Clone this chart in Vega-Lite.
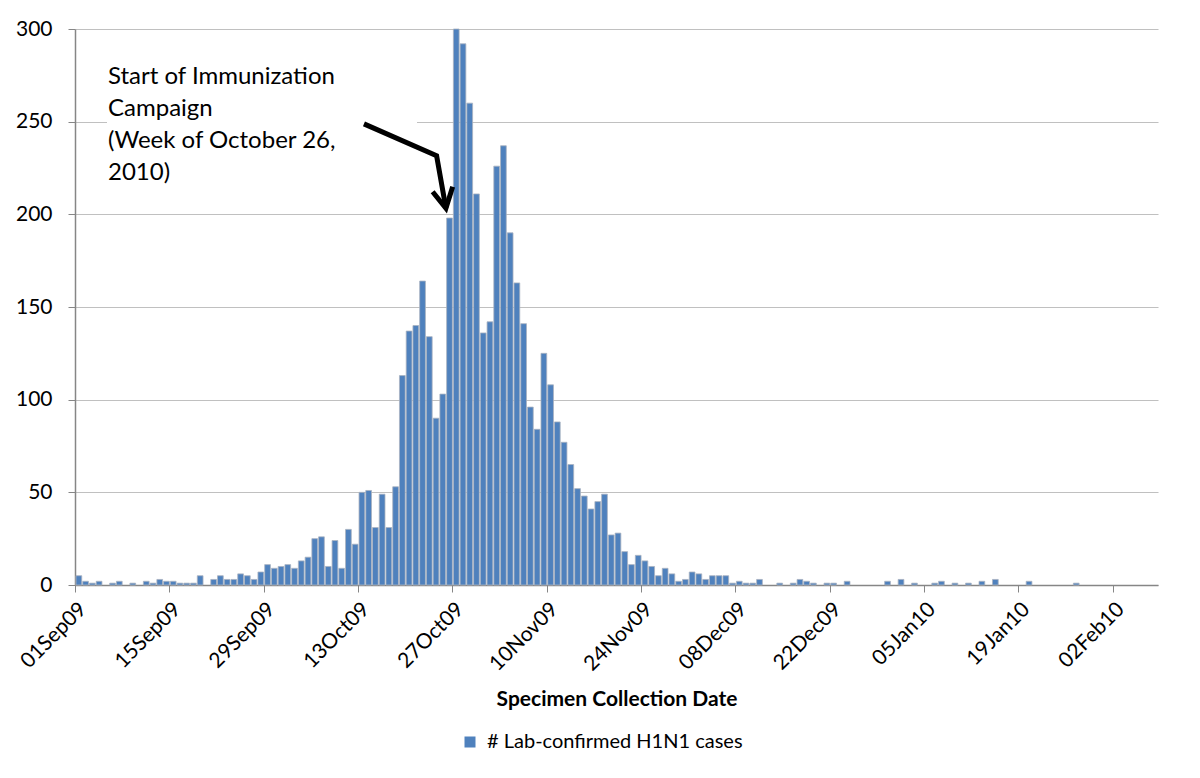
{
  "$schema": "https://vega.github.io/schema/vega-lite/v6.json",
  "width": 1083,
  "height": 556,
  "autosize": {"type": "none"},
  "padding": {"left": 75, "top": 29, "right": 42, "bottom": 193},
  "background": "white",
  "config": {
    "view": {"stroke": null},
    "font": "Lato",
    "axis": {"labelFont": "Lato", "titleFont": "Lato", "labelColor": "#000000", "titleColor": "#000000"}
  },
  "datasets": {
    "cases": [
      {"date": "2009-09-01", "cases": 5}, {"date": "2009-09-02", "cases": 2}, {"date": "2009-09-03", "cases": 1},
      {"date": "2009-09-04", "cases": 2}, {"date": "2009-09-06", "cases": 1}, {"date": "2009-09-07", "cases": 2},
      {"date": "2009-09-09", "cases": 1}, {"date": "2009-09-11", "cases": 2}, {"date": "2009-09-12", "cases": 1},
      {"date": "2009-09-13", "cases": 3}, {"date": "2009-09-14", "cases": 2}, {"date": "2009-09-15", "cases": 2},
      {"date": "2009-09-16", "cases": 1}, {"date": "2009-09-17", "cases": 1}, {"date": "2009-09-18", "cases": 1},
      {"date": "2009-09-19", "cases": 5}, {"date": "2009-09-21", "cases": 3}, {"date": "2009-09-22", "cases": 5},
      {"date": "2009-09-23", "cases": 3}, {"date": "2009-09-24", "cases": 3}, {"date": "2009-09-25", "cases": 6},
      {"date": "2009-09-26", "cases": 5}, {"date": "2009-09-27", "cases": 3}, {"date": "2009-09-28", "cases": 7},
      {"date": "2009-09-29", "cases": 11}, {"date": "2009-09-30", "cases": 9}, {"date": "2009-10-01", "cases": 10},
      {"date": "2009-10-02", "cases": 11}, {"date": "2009-10-03", "cases": 9}, {"date": "2009-10-04", "cases": 13},
      {"date": "2009-10-05", "cases": 15}, {"date": "2009-10-06", "cases": 25}, {"date": "2009-10-07", "cases": 26},
      {"date": "2009-10-08", "cases": 10}, {"date": "2009-10-09", "cases": 24}, {"date": "2009-10-10", "cases": 9},
      {"date": "2009-10-11", "cases": 30}, {"date": "2009-10-12", "cases": 22}, {"date": "2009-10-13", "cases": 50},
      {"date": "2009-10-14", "cases": 51}, {"date": "2009-10-15", "cases": 31}, {"date": "2009-10-16", "cases": 49},
      {"date": "2009-10-17", "cases": 31}, {"date": "2009-10-18", "cases": 53}, {"date": "2009-10-19", "cases": 113},
      {"date": "2009-10-20", "cases": 137}, {"date": "2009-10-21", "cases": 140}, {"date": "2009-10-22", "cases": 164},
      {"date": "2009-10-23", "cases": 134}, {"date": "2009-10-24", "cases": 90}, {"date": "2009-10-25", "cases": 103},
      {"date": "2009-10-26", "cases": 198}, {"date": "2009-10-27", "cases": 300}, {"date": "2009-10-28", "cases": 292},
      {"date": "2009-10-29", "cases": 260}, {"date": "2009-10-30", "cases": 211}, {"date": "2009-10-31", "cases": 136},
      {"date": "2009-11-01", "cases": 142}, {"date": "2009-11-02", "cases": 226}, {"date": "2009-11-03", "cases": 237},
      {"date": "2009-11-04", "cases": 190}, {"date": "2009-11-05", "cases": 163}, {"date": "2009-11-06", "cases": 141},
      {"date": "2009-11-07", "cases": 96}, {"date": "2009-11-08", "cases": 84}, {"date": "2009-11-09", "cases": 125},
      {"date": "2009-11-10", "cases": 108}, {"date": "2009-11-11", "cases": 88}, {"date": "2009-11-12", "cases": 77},
      {"date": "2009-11-13", "cases": 65}, {"date": "2009-11-14", "cases": 52}, {"date": "2009-11-15", "cases": 48},
      {"date": "2009-11-16", "cases": 41}, {"date": "2009-11-17", "cases": 45}, {"date": "2009-11-18", "cases": 49},
      {"date": "2009-11-19", "cases": 27}, {"date": "2009-11-20", "cases": 28}, {"date": "2009-11-21", "cases": 18},
      {"date": "2009-11-22", "cases": 11}, {"date": "2009-11-23", "cases": 16}, {"date": "2009-11-24", "cases": 13},
      {"date": "2009-11-25", "cases": 10}, {"date": "2009-11-26", "cases": 5}, {"date": "2009-11-27", "cases": 9},
      {"date": "2009-11-28", "cases": 6}, {"date": "2009-11-29", "cases": 2}, {"date": "2009-11-30", "cases": 3},
      {"date": "2009-12-01", "cases": 7}, {"date": "2009-12-02", "cases": 6}, {"date": "2009-12-03", "cases": 3},
      {"date": "2009-12-04", "cases": 5}, {"date": "2009-12-05", "cases": 5}, {"date": "2009-12-06", "cases": 5},
      {"date": "2009-12-07", "cases": 1}, {"date": "2009-12-08", "cases": 2}, {"date": "2009-12-09", "cases": 1},
      {"date": "2009-12-10", "cases": 1}, {"date": "2009-12-11", "cases": 3}, {"date": "2009-12-14", "cases": 1},
      {"date": "2009-12-16", "cases": 1}, {"date": "2009-12-17", "cases": 3}, {"date": "2009-12-18", "cases": 2},
      {"date": "2009-12-19", "cases": 1}, {"date": "2009-12-21", "cases": 1}, {"date": "2009-12-22", "cases": 1},
      {"date": "2009-12-24", "cases": 2}, {"date": "2009-12-30", "cases": 2}, {"date": "2010-01-01", "cases": 3},
      {"date": "2010-01-03", "cases": 1}, {"date": "2010-01-06", "cases": 1}, {"date": "2010-01-07", "cases": 2},
      {"date": "2010-01-09", "cases": 1}, {"date": "2010-01-11", "cases": 1}, {"date": "2010-01-13", "cases": 2},
      {"date": "2010-01-15", "cases": 3}, {"date": "2010-01-20", "cases": 2}, {"date": "2010-01-27", "cases": 1}
    ],
    "arrow": [
      {"t": "2009-10-13T21:07:00Z", "v": 248.8, "seg": "shaft", "ord": 1},
      {"t": "2009-10-24T15:50:00Z", "v": 231.6, "seg": "shaft", "ord": 2},
      {"t": "2009-10-26T01:00:00Z", "v": 203.3, "seg": "shaft", "ord": 3},
      {"t": "2009-10-24T01:40:00Z", "v": 212.2, "seg": "head", "ord": 1},
      {"t": "2009-10-26T01:00:00Z", "v": 203.3, "seg": "head", "ord": 2},
      {"t": "2009-10-27T01:00:00Z", "v": 214.9, "seg": "head", "ord": 3}
    ],
    "note": [
      {"t": "2009-09-05T21:30:00Z", "v": 270.2, "t0": "2009-09-05T18:00:00Z", "t1": "2009-10-21T18:00:00Z", "v0": 206, "v1": 290}
    ]
  },
  "layer": [
    {
      "data": {"name": "cases"},
      "mark": {"type": "bar", "stroke": "#aab2c0", "strokeWidth": 0.8},
      "encoding": {
        "x": {
          "field": "date", "type": "temporal", "timeUnit": "utcyearmonthdate",
          "scale": {"type": "utc", "domain": [{"year": 2009, "month": "sep", "date": 1, "utc": true}, {"year": 2010, "month": "feb", "date": 8, "hours": 17, "utc": true}]},
          "axis": {
            "values": [
              {"year": 2009, "month": "sep", "date": 1, "utc": true},
              {"year": 2009, "month": "sep", "date": 15, "utc": true},
              {"year": 2009, "month": "sep", "date": 29, "utc": true},
              {"year": 2009, "month": "oct", "date": 13, "utc": true},
              {"year": 2009, "month": "oct", "date": 27, "utc": true},
              {"year": 2009, "month": "nov", "date": 10, "utc": true},
              {"year": 2009, "month": "nov", "date": 24, "utc": true},
              {"year": 2009, "month": "dec", "date": 8, "utc": true},
              {"year": 2009, "month": "dec", "date": 22, "utc": true},
              {"year": 2010, "month": "jan", "date": 5, "utc": true},
              {"year": 2010, "month": "jan", "date": 19, "utc": true},
              {"year": 2010, "month": "feb", "date": 2, "utc": true}
            ],
            "format": "%d%b%y",
            "labelAngle": -45,
            "labelFontSize": 21,
            "labelPadding": 6,
            "labelFlush": false,
            "labelOverlap": false,
            "tickSize": 7,
            "tickColor": "#868686",
            "domainColor": "#868686",
            "domainWidth": 1.5,
            "grid": false,
            "title": "Specimen Collection Date",
            "titleFontSize": 21,
            "titleFontWeight": "bold",
            "titlePadding": 14
          }
        },
        "y": {
          "field": "cases", "type": "quantitative",
          "scale": {"domain": [0, 300], "nice": false},
          "axis": {
            "values": [0, 50, 100, 150, 200, 250, 300],
            "title": null,
            "labelFontSize": 21,
            "labelPadding": 16,
            "tickSize": 7,
            "tickColor": "#868686",
            "domainColor": "#868686",
            "domainWidth": 1.5,
            "grid": true,
            "gridColor": "#c0c0c0",
            "gridWidth": 1.2
          }
        },
        "color": {
          "datum": "# Lab-confirmed H1N1 cases",
          "type": "nominal",
          "scale": {"range": ["#4f81bd"]},
          "legend": {
            "orient": "none", "legendX": 385, "legendY": 703, "title": null,
            "symbolType": "square", "symbolSize": 121, "symbolStrokeWidth": 0,
            "labelFontSize": 20, "labelFont": "Lato", "labelOffset": 7, "labelLimit": 500,
            "padding": 0, "labelColor": "#000000"
          }
        }
      }
    },
    {
      "data": {"name": "note"},
      "mark": {"type": "rect", "fill": "white", "stroke": null},
      "encoding": {
        "x": {"field": "t0", "type": "temporal", "scale": {"type": "utc"}},
        "x2": {"field": "t1"},
        "y": {"field": "v0", "type": "quantitative"},
        "y2": {"field": "v1"}
      }
    },
    {
      "data": {"name": "note"},
      "mark": {
        "type": "text",
        "text": ["Start of Immunization", "Campaign", "(Week of October 26,", "2010)"],
        "align": "left", "baseline": "alphabetic", "lineHeight": 32,
        "fontSize": 24, "font": "Lato", "color": "#000000"
      },
      "encoding": {
        "x": {"field": "t", "type": "temporal", "scale": {"type": "utc"}},
        "y": {"field": "v", "type": "quantitative"}
      }
    },
    {
      "data": {"name": "arrow"},
      "mark": {"type": "line", "color": "#000000", "strokeWidth": 5, "strokeJoin": "miter", "strokeCap": "butt"},
      "encoding": {
        "x": {"field": "t", "type": "temporal", "scale": {"type": "utc"}},
        "y": {"field": "v", "type": "quantitative"},
        "detail": {"field": "seg"},
        "order": {"field": "ord"}
      }
    }
  ]
}
